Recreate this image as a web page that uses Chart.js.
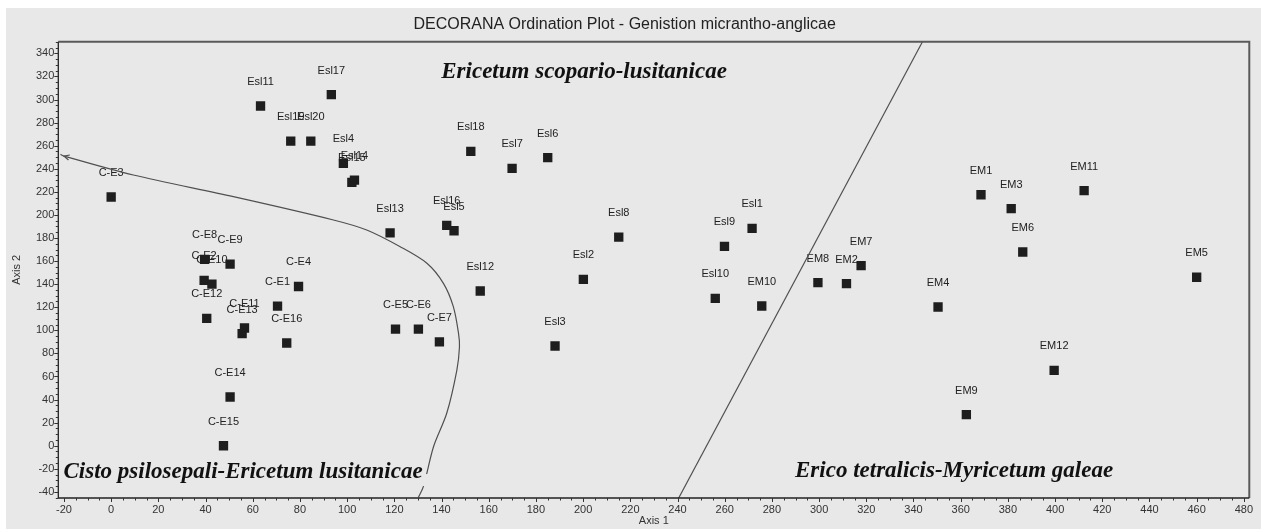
<!DOCTYPE html>
<html>
<head>
<meta charset="utf-8">
<title>DECORANA Ordination Plot</title>
<script src="https://cdn.jsdelivr.net/npm/chart.js@4.4.1/dist/chart.umd.min.js"></script>
<style>
  html, body { margin: 0; padding: 0; background: #fff; }
  #wrap { width: 1261px; height: 529px; }
</style>
</head>
<body>
<div id="wrap"><canvas id="myChart"></canvas></div>
<script>
// Cisto psilosepali-Ericetum lusitanicae releves
var ceNames = ["C-E1","C-E2","C-E3","C-E4","C-E5","C-E6","C-E7","C-E8","C-E9","C-E10","C-E11","C-E12","C-E13","C-E14","C-E15","C-E16"]
var ceX = [70.5, 39.4, 0, 79.4, 120.5, 130.2, 139.1, 39.6, 50.4, 42.7, 56.5, 40.5, 55.5, 50.4, 47.6, 74.4]
var ceY = [121, 143.3, 215.5, 138, 101, 101, 90, 161.5, 157.3, 140, 102, 110.4, 97.2, 42.2, 0, 89]

// Ericetum scopario-lusitanicae releves
var eslNames = ["Esl1","Esl2","Esl3","Esl4","Esl5","Esl6","Esl7","Esl8","Esl9","Esl10","Esl11","Esl12","Esl13","Esl14","Esl15","Esl16","Esl17","Esl18","Esl19","Esl20"]
var eslX = [271.6, 200.1, 188.1, 98.4, 145.3, 185, 169.9, 215.1, 259.9, 256, 63.3, 156.4, 118.2, 103.1, 102, 142.2, 93.3, 152.4, 76.1, 84.6]
var eslY = [188.4, 144.2, 86.4, 244.7, 186.3, 249.6, 240.4, 180.8, 172.8, 127.7, 294.4, 134.1, 184.5, 230.2, 228.2, 191, 304.2, 255.1, 264, 264]

// Erico tetralicis-Myricetum galeae releves
var emNames = ["EM1","EM2","EM3","EM4","EM5","EM6","EM7","EM8","EM9","EM10","EM11","EM12"]
var emX = [368.6, 311.6, 381.4, 350.4, 460, 386.3, 317.8, 299.5, 362.4, 275.7, 412.3, 399.6]
var emY = [217.5, 140.4, 205.4, 120.2, 146, 167.9, 156, 141.4, 26.9, 121.1, 221, 65.3]

// boundary lines drawn by hand on the plot
var curveX = [-21.5, -20, 9.4, 51.8, 94.2, 108.3, 122.5, 133.8, 140.8, 145, 147.2, 147.6, 146.5, 142.2, 136.6, 132.3, 130.2]
var curveY = [252.5, 251, 234.6, 215.8, 195.6, 186.9, 172.4, 158.1, 140.7, 120.5, 97.4, 85.8, 65.6, 28.1, -0.9, -35.5, -44.7]
var lineX = [240.5, 343.8]
var lineY = [-45.3, 350.1]

// community names written on the plot
var regionNames = ["Ericetum scopario-lusitanicae", "Cisto psilosepali-Ericetum lusitanicae", "Erico tetralicis-Myricetum galeae"]
var regionX = [200.4, 55.9, 357.2]
var regionY = [324, -22.8, -22]

var xMin = -22.4, xMax = 482.3
var yMin = -45.3, yMax = 350.1

var panelColor = "#e8e8e8"
var markColor = "#1e1e1e"
var textFont = "'Liberation Sans', Arial, sans-serif"

function toPoints(xs, ys) {
    var pts = []
    for (var i = 0; i < xs.length; i++) pts.push({x: xs[i], y: ys[i]})
    return pts
}

function releveSet(name, xs, ys, names) {
    return {
        label: name,
        data: toPoints(xs, ys),
        names: names,
        pointStyle: "rect",
        pointRadius: 6.6,
        pointHoverRadius: 6.6,
        backgroundColor: markColor,
        borderColor: markColor,
        borderWidth: 0,
        showLine: false
    }
}

function boundarySet(name, xs, ys, tension) {
    return {
        label: name,
        data: toPoints(xs, ys),
        showLine: true,
        tension: tension,
        pointRadius: 0,
        borderColor: "#505050",
        borderWidth: 1.2,
        backgroundColor: "transparent",
        fill: false
    }
}

var sketch = {
    id: "sketch",
    beforeDraw: function(chart) {
        var ctx = chart.ctx
        ctx.save()
        ctx.fillStyle = "#ffffff"
        ctx.fillRect(0, 0, chart.width, chart.height)
        ctx.fillStyle = panelColor
        ctx.fillRect(6, 8, chart.width - 6, chart.height - 8)
        ctx.restore()
    },
    beforeDatasetsDraw: function(chart) {
        // releve names sit above their squares, squares drawn on top
        var ctx = chart.ctx
        ctx.save()
        ctx.font = "11px " + textFont
        ctx.fillStyle = "#222"
        ctx.textAlign = "center"
        ctx.textBaseline = "middle"
        chart.data.datasets.forEach(function(ds, i) {
            if (!ds.names) return
            var meta = chart.getDatasetMeta(i)
            meta.data.forEach(function(pt, j) {
                ctx.fillText(ds.names[j], pt.x, pt.y - 24)
            })
        })
        ctx.restore()
    },
    afterDatasetsDraw: function(chart) {
        var ctx = chart.ctx
        var xs = chart.scales.x, ys = chart.scales.y
        ctx.save()
        // little arrow head at the start of the curve
        var tx = xs.getPixelForValue(curveX[1]), ty = ys.getPixelForValue(curveY[1])
        var nx = xs.getPixelForValue(curveX[2]), ny = ys.getPixelForValue(curveY[2])
        var ang = Math.atan2(ny - ty, nx - tx)
        ctx.strokeStyle = "#505050"
        ctx.lineWidth = 1.2
        ctx.beginPath()
        ctx.moveTo(tx + 6 * Math.cos(ang - 0.45), ty + 6 * Math.sin(ang - 0.45))
        ctx.lineTo(tx, ty)
        ctx.lineTo(tx + 6 * Math.cos(ang + 0.45), ty + 6 * Math.sin(ang + 0.45))
        ctx.stroke()

        ctx.font = "italic bold 23px 'Liberation Serif', 'Times New Roman', serif"
        ctx.textAlign = "center"
        ctx.textBaseline = "middle"
        for (var i = 0; i < regionNames.length; i++) {
            var px = xs.getPixelForValue(regionX[i])
            var py = ys.getPixelForValue(regionY[i])
            var w = ctx.measureText(regionNames[i]).width
            ctx.fillStyle = panelColor
            ctx.fillRect(px - w / 2 - 3, py + 2, w + 13, 12)
            ctx.fillStyle = "#111"
            ctx.fillText(regionNames[i], px, py)
        }
        ctx.restore()
    },
    afterDraw: function(chart) {
        var ctx = chart.ctx
        var a = chart.chartArea
        var xs = chart.scales.x, ys = chart.scales.y
        ctx.save()
        // frame
        ctx.strokeStyle = "#5a5a5a"
        ctx.lineWidth = 2
        ctx.beginPath()
        ctx.moveTo(a.left, a.top)
        ctx.lineTo(a.right, a.top)
        ctx.lineTo(a.right, a.bottom)
        ctx.stroke()
        ctx.strokeStyle = "#222"
        ctx.lineWidth = 1.3
        ctx.beginPath()
        ctx.moveTo(a.left, a.top)
        ctx.lineTo(a.left, a.bottom)
        ctx.lineTo(a.right, a.bottom)
        ctx.stroke()
        // major and minor tick marks
        ctx.lineWidth = 1
        ctx.strokeStyle = "#333"
        ctx.beginPath()
        for (var v = Math.ceil(xMin / 5) * 5; v <= xMax; v += 5) {
            var px = Math.round(xs.getPixelForValue(v)) + 0.5
            var len = (v % 20 === 0) ? 4 : 2.5
            ctx.moveTo(px, a.bottom)
            ctx.lineTo(px, a.bottom + len)
        }
        for (var u = Math.ceil(yMin / 5) * 5; u <= yMax; u += 5) {
            var py = Math.round(ys.getPixelForValue(u)) + 0.5
            var len2 = (u % 20 === 0) ? 4 : 2.5
            ctx.moveTo(a.left, py)
            ctx.lineTo(a.left - len2, py)
        }
        ctx.stroke()
        ctx.restore()
    }
}

var myChart = document.getElementById("myChart").getContext("2d")
var chart = new Chart(myChart, {
    type: "scatter",
    data: {
        datasets: [
            releveSet("C-E", ceX, ceY, ceNames),
            releveSet("Esl", eslX, eslY, eslNames),
            releveSet("EM", emX, emY, emNames),
            boundarySet("curve", curveX, curveY, 0.3),
            boundarySet("line", lineX, lineY, 0)
        ]
    },
    options: {
        responsive: true,
        maintainAspectRatio: false,
        animation: false,
        events: [],
        layout: { padding: { left: 0, right: 11.7, top: 0, bottom: 0 } },
        plugins: {
            legend: { display: false },
            tooltip: { enabled: false },
            title: {
                display: true,
                text: "DECORANA Ordination Plot - Genistion micrantho-anglicae",
                color: "#222",
                font: { family: textFont, size: 16, weight: "normal", lineHeight: 1.2 },
                padding: { top: 15, bottom: 7.5 }
            }
        },
        scales: {
            x: {
                type: "linear",
                min: xMin,
                max: xMax,
                grid: { display: false, drawTicks: false },
                border: { display: false },
                ticks: {
                    stepSize: 20,
                    includeBounds: false,
                    maxRotation: 0,
                    autoSkip: false,
                    padding: 5,
                    color: "#333",
                    font: { family: textFont, size: 11 }
                },
                title: {
                    display: true,
                    text: "Axis 1",
                    color: "#333",
                    font: { family: textFont, size: 11 },
                    padding: { top: 0, bottom: 1.5 }
                },
                afterFit: function(scale) { scale.height = 31 }
            },
            y: {
                type: "linear",
                min: yMin,
                max: yMax,
                grid: { display: false, drawTicks: false },
                border: { display: false },
                ticks: {
                    stepSize: 20,
                    includeBounds: false,
                    autoSkip: false,
                    padding: 4,
                    color: "#333",
                    font: { family: textFont, size: 11 }
                },
                title: {
                    display: true,
                    text: "Axis 2",
                    color: "#333",
                    font: { family: textFont, size: 11 },
                    padding: { top: 10.5, bottom: 0 }
                },
                afterFit: function(scale) { scale.width = 58.3 }
            }
        }
    },
    plugins: [sketch]
})
</script>
</body>
</html>
